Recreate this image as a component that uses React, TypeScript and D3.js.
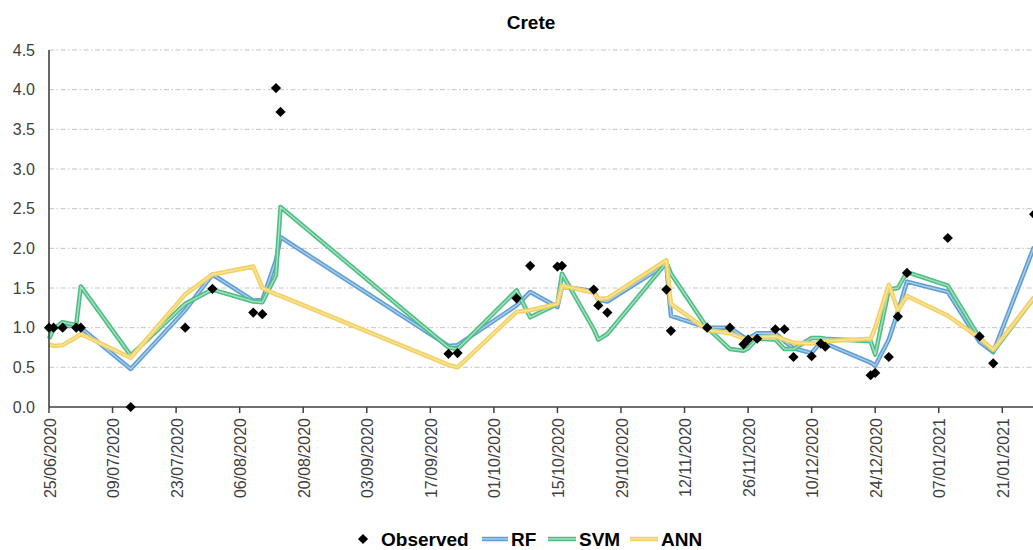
import React from "react";
import * as d3 from "d3";

const dates = [
  "25/06/2020", "26/06/2020", "28/06/2020", "01/07/2020", "02/07/2020", "13/07/2020",
  "25/07/2020", "31/07/2020", "09/08/2020", "11/08/2020", "14/08/2020", "15/08/2020",
  "21/09/2020", "23/09/2020", "06/10/2020", "09/10/2020", "15/10/2020", "16/10/2020",
  "23/10/2020", "24/10/2020", "26/10/2020", "08/11/2020", "09/11/2020", "17/11/2020",
  "22/11/2020", "25/11/2020", "26/11/2020", "28/11/2020", "02/12/2020", "04/12/2020",
  "06/12/2020", "10/12/2020", "12/12/2020", "13/12/2020", "23/12/2020", "24/12/2020",
  "27/12/2020", "29/12/2020", "31/12/2020", "09/01/2021", "16/01/2021", "19/01/2021",
  "28/01/2021",
];

const observed = [
  1.0, 1.0, 1.0, 1.0, 1.0, 0.0,
  1.0, 1.49, 1.19, 1.17, 4.02, 3.72,
  0.67, 0.68, 1.37, 1.78, 1.77, 1.78,
  1.48, 1.28, 1.19, 1.48, 0.96, 1.0,
  1.0, 0.79, 0.85, 0.86, 0.98, 0.98,
  0.63, 0.64, 0.8, 0.76, 0.4, 0.43,
  0.63, 1.14, 1.69, 2.13, 0.89, 0.55,
  2.43,
];

const rf = [
  0.95, 1.0, 1.02, 1.02, 1.0, 0.48,
  1.22, 1.67, 1.34, 1.35, 1.85, 2.14,
  0.77, 0.78, 1.28, 1.45, 1.26, 1.52,
  1.46, 1.35, 1.33, 1.8, 1.15, 1.0,
  1.0, 0.88, 0.86, 0.93, 0.93, 0.83,
  0.74, 0.68, 0.82, 0.8, 0.56, 0.52,
  0.85, 1.2, 1.58, 1.45, 0.82, 0.69,
  2.02,
];

const svm = [
  0.86, 0.98, 1.07, 1.03, 1.52, 0.65,
  1.3, 1.48, 1.33, 1.32, 1.66, 2.52,
  0.75, 0.73, 1.47, 1.13, 1.3, 1.68,
  0.98, 0.85, 0.92, 1.82, 1.68, 1.0,
  0.73, 0.71, 0.74, 0.86, 0.85, 0.73,
  0.73, 0.87, 0.87, 0.86, 0.83, 0.66,
  1.48, 1.5, 1.7, 1.53, 0.87, 0.7,
  1.38,
];

const ann = [
  0.79, 0.77, 0.78, 0.88, 0.92, 0.62,
  1.42, 1.67, 1.77, 1.5, 1.42, 1.4,
  0.53, 0.5, 1.2, 1.22, 1.3, 1.53,
  1.44, 1.36, 1.37, 1.85, 1.3, 0.97,
  0.93, 0.86, 0.85, 0.88, 0.89, 0.85,
  0.81, 0.8, 0.82, 0.83, 0.86, 1.0,
  1.54, 1.22, 1.4, 1.15, 0.87, 0.72,
  1.38,
];

const tickLabels = [
  "25/06/2020", "09/07/2020", "23/07/2020", "06/08/2020", "20/08/2020", "03/09/2020",
  "17/09/2020", "01/10/2020", "15/10/2020", "29/10/2020", "12/11/2020", "26/11/2020",
  "10/12/2020", "24/12/2020", "07/01/2021", "21/01/2021",
];

const yTicks = [0, 0.5, 1, 1.5, 2, 2.5, 3, 3.5, 4, 4.5];

const seriesNames = ["RF", "SVM", "ANN"];

const parse = d3.utcParse("%d/%m/%Y");

const W = 1033;
const H = 550;
const left = 49;
const bottom = 407;
const top = 50;

const x = d3
  .scaleUtc()
  .domain([parse("25/06/2020") as Date, parse("21/01/2021") as Date])
  .range([left, 1002.3]);
const y = d3.scaleLinear().domain([0, 4.5]).range([bottom, top]);

const styles: Record<string, { edge: string; inner: string }> = {
  RF: { edge: "#5f9fd3", inner: "#a9cdec" },
  SVM: { edge: "#4fbd84", inner: "#a6e2c0" },
  ANN: { edge: "#f3d05f", inner: "#f9e4a0" },
};

const seriesValues: Record<string, number[]> = { RF: rf, SVM: svm, ANN: ann };

export default function App() {
  const font = "'Liberation Sans', Arial, sans-serif";
  const axisColor = "#404040";
  const line = d3
    .line<number>()
    .x((_, i) => x(parse(dates[i]) as Date))
    .y((v) => y(v));
  const diamond = d3.symbol(d3.symbolSquare, 52)() as string;

  const legendItems = [
    { name: "RF", x1: 482, x2: 508, tx: 511 },
    { name: "SVM", x1: 548, x2: 576, tx: 579 },
    { name: "ANN", x1: 630, x2: 658, tx: 661 },
  ];
  const ly = 539;

  return (
    <div style={{ position: "absolute", left: 0, top: 0 }}>
      <svg width={W} height={H} style={{ display: "block", background: "#fff" }}>
        <rect x={0} y={0} width={W} height={H} fill="#fff" />
        <text
          x={531}
          y={29}
          textAnchor="middle"
          fontFamily={font}
          fontWeight="bold"
          fontSize={19}
          fill="#000"
        >
          Crete
        </text>

        {yTicks
          .filter((t) => t > 0)
          .map((t) => (
            <line
              key={"g" + t}
              x1={left}
              x2={W}
              y1={y(t)}
              y2={y(t)}
              stroke="#c4c4c4"
              strokeWidth={1}
              strokeDasharray="5,2.5,1.5,2.5"
            />
          ))}

        {yTicks.map((t) => (
          <text
            key={"yl" + t}
            x={35}
            y={y(t)}
            dy="0.35em"
            textAnchor="end"
            fontFamily={font}
            fontSize={16}
            fill={axisColor}
          >
            {t.toFixed(1)}
          </text>
        ))}

        {tickLabels.map((lab) => {
          const tx = x(parse(lab) as Date);
          return (
            <g key={"xt" + lab}>
              <line x1={tx} x2={tx} y1={bottom} y2={bottom + 6} stroke={axisColor} strokeWidth={1.5} />
              <text
                transform={`translate(${tx + 1},418) rotate(-90)`}
                dy="0.35em"
                textAnchor="end"
                fontFamily={font}
                fontSize={16}
                fill={axisColor}
              >
                {lab}
              </text>
            </g>
          );
        })}

        {seriesNames.map((name) => (
          <g key={name}>
            <path
              d={line(seriesValues[name]) as string}
              fill="none"
              stroke={styles[name].edge}
              strokeWidth={4.5}
              strokeLinejoin="round"
            />
            <path
              d={line(seriesValues[name]) as string}
              fill="none"
              stroke={styles[name].inner}
              strokeWidth={1.4}
              strokeLinejoin="round"
            />
          </g>
        ))}

        <line x1={left} x2={left} y1={top} y2={bottom} stroke={axisColor} strokeWidth={1.6} />
        <line x1={left} x2={W} y1={bottom} y2={bottom} stroke={axisColor} strokeWidth={1.6} />

        {observed.map((v, i) => (
          <path
            key={"o" + i}
            d={diamond}
            transform={`translate(${x(parse(dates[i]) as Date)},${y(v)}) rotate(45)`}
            fill="#000"
          />
        ))}

        <path d={diamond} transform={`translate(363,${ly}) rotate(45)`} fill="#000" />
        <text
          x={381}
          y={ly}
          dy="0.35em"
          fontFamily={font}
          fontWeight="bold"
          fontSize={19}
          fill="#000"
        >
          Observed
        </text>
        {legendItems.map((it) => (
          <g key={"lg" + it.name}>
            <line x1={it.x1} x2={it.x2} y1={ly} y2={ly} stroke={styles[it.name].edge} strokeWidth={4.5} />
            <line x1={it.x1} x2={it.x2} y1={ly} y2={ly} stroke={styles[it.name].inner} strokeWidth={1.4} />
            <text
              x={it.tx}
              y={ly}
              dy="0.35em"
              fontFamily={font}
              fontWeight="bold"
              fontSize={19}
              fill="#000"
            >
              {it.name}
            </text>
          </g>
        ))}
      </svg>
    </div>
  );
}
